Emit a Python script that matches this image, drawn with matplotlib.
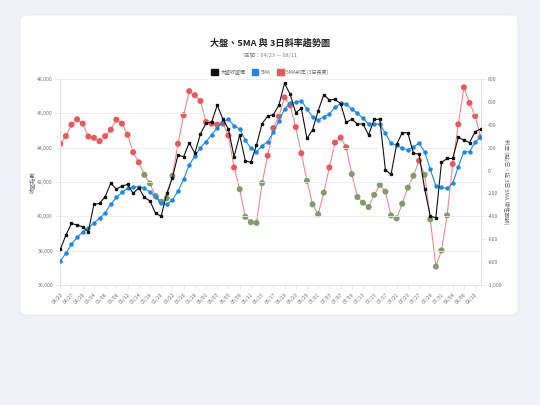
import matplotlib.pyplot as plt
from matplotlib.patches import FancyBboxPatch, Patch
from matplotlib.ticker import FuncFormatter, MultipleLocator
import numpy as np

plt.rcParams['font.family'] = ['Noto Sans CJK TC', 'DejaVu Sans']

# trading days 04/23 - 08/11
dates = ['04/23', '04/24', '04/27', '04/28', '04/29', '04/30',
         '05/04', '05/05', '05/06', '05/07', '05/08', '05/11', '05/12', '05/13', '05/14', '05/15',
         '05/18', '05/19', '05/20', '05/21', '05/22', '05/25', '05/26', '05/27', '05/28', '05/29',
         '06/01', '06/02', '06/03', '06/04', '06/05', '06/08', '06/09', '06/10', '06/11', '06/12',
         '06/15', '06/16', '06/17', '06/18', '06/19', '06/22', '06/23', '06/24', '06/29', '06/30',
         '07/01', '07/02', '07/03', '07/06', '07/07', '07/08', '07/09', '07/10',
         '07/13', '07/14', '07/15', '07/16', '07/17', '07/20', '07/21', '07/22', '07/23', '07/24',
         '07/27', '07/28', '07/29', '07/30', '07/31',
         '08/03', '08/04', '08/05', '08/06', '08/07', '08/10', '08/11']

close = [38070, 38900, 39590, 39490, 39390, 39100, 40700, 40750, 41140, 41920,
         41590, 41760, 41860, 41340, 41660, 41100, 40890, 40170, 40010, 41340,
         42250, 43570, 43470, 44290, 43670, 44800, 45420, 45490, 46480, 45670,
         45070, 43470, 44740, 43240, 43140, 44150, 45400, 45840, 45920, 46480,
         47750, 47110, 46040, 46290, 44540, 45030, 46150, 47070, 46780, 46810,
         46570, 45470, 45650, 45380, 45380, 44740, 45650, 45650, 42700, 42440,
         44190, 44870, 44870, 43670, 43630, 41590, 40010, 39920, 43140, 43370,
         43370, 44600, 44440, 44290, 44930, 45090]

ma5 = [37410, 37840, 38380, 38770, 39100, 39300, 39620, 39880, 40200, 40710,
       41100, 41390, 41630, 41720, 41720, 41630, 41430, 41140, 40750, 40700,
       40950, 41470, 42150, 42990, 43510, 44000, 44350, 44740, 45160, 45510,
       45650, 45280, 45090, 44440, 43960, 43760, 44110, 44350, 44890, 45550,
       46250, 46580, 46640, 46740, 46250, 45800, 45610, 45800, 45960, 46350,
       46580, 46540, 46250, 46000, 45710, 45380, 45380, 45380, 44830, 44250,
       44150, 43960, 43860, 44050, 44250, 43760, 42740, 41760, 41690, 41630,
       41920, 42890, 43760, 43760, 44310, 44640]

slope = [234, 301, 401, 448, 410, 298, 286, 257, 301, 357,
         445, 410, 313, 160, 72, -37, -113, -222, -272, -242,
         -46, 234, 483, 694, 659, 608, 424, 410, 401, 410,
         307, 27, -163, -404, -451, -457, -110, 130, 371, 474,
         639, 571, 380, 151, -90, -295, -383, -193, 27, 244,
         288, 204, -31, -231, -281, -319, -213, -125, -184, -392,
         -418, -290, -149, -46, 86, -37, -427, -839, -698, -392,
         57, 404, 727, 591, 477, 292]

x = np.arange(len(dates))
slope = np.array(slope)

fig = plt.figure(figsize=(5.4, 4.05), dpi=100)
fig.patch.set_facecolor('#eff1f7')
card = FancyBboxPatch((20 / 540, 1 - 315 / 405), 498 / 540, 300 / 405,
                      boxstyle='round,pad=0,rounding_size=0.014',
                      transform=fig.transFigure, facecolor='white',
                      edgecolor='#e6e8ef', linewidth=0.6, zorder=-10)
fig.patches.append(card)

ax = fig.add_axes([60 / 540, 1 - 285 / 405, 421 / 540, 206 / 405])
ax2 = ax.twinx()
ax.set_zorder(ax2.get_zorder() + 1)
ax.set_facecolor('none')
ax2.set_facecolor('none')

# slope line (drawn underneath)
red = '#e8585e'
green = '#7f9d6c'
ax2.plot(x, slope, color=red, lw=0.8, alpha=0.7, zorder=1)
pt_colors = [red if s >= 0 else green for s in slope]
ax2.scatter(x, slope, s=19, c=pt_colors, zorder=2, linewidths=0)

ax.plot(x, ma5, color='#1e88e5', lw=0.8, marker='o', ms=2.2, zorder=3)
ax.plot(x, close, color='#111111', lw=0.8, marker='s', ms=1.9, zorder=4)

ax.set_xlim(-0.05, len(dates) - 0.95)
ax.set_ylim(36000, 48000)
ax2.set_ylim(-1000, 800)
ax.yaxis.set_major_locator(MultipleLocator(2000))
ax2.yaxis.set_major_locator(MultipleLocator(200))
ax.yaxis.set_major_formatter(FuncFormatter(lambda v, p: f'{v:,.0f}'))
ax2.yaxis.set_major_formatter(FuncFormatter(lambda v, p: f'{v:,.0f}'))

ax.set_xticks(x[::2])
ax.set_xticklabels(dates[::2], rotation=45, ha='right', va='top',
                   rotation_mode='anchor')

ax.grid(axis='y', color='#ececec', lw=0.6)
for a in (ax, ax2):
    for s in a.spines.values():
        s.set_color('#e2e2e2')
        s.set_linewidth(0.6)
    a.spines['top'].set_visible(False)
    a.tick_params(colors='#e2e2e2', labelcolor='#777777', labelsize=3.7,
                  length=3, width=0.5, pad=2)

ax.set_ylabel('收盤指數', fontsize=4, color='#666666', labelpad=2)
ax2.set_ylabel('斜率 (點/日，近 3日 5MA 線性回歸)', fontsize=4, color='#666666',
               rotation=270, labelpad=5)

fig.text(0.5, 1 - 43 / 405, '大盤、5MA 與 3日斜率趨勢圖', ha='center', va='center',
         fontsize=6.6, fontweight='bold', color='#222222')
fig.text(0.5, 1 - 55 / 405, '區間：04/23 — 08/11', ha='center', va='center',
         fontsize=4, color='#888888')

handles = [Patch(facecolor='#111111', edgecolor='#111111'),
           Patch(facecolor='#1e88e5', edgecolor='#1e88e5'),
           Patch(facecolor=red, edgecolor=red)]
fig.legend(handles, ['大盤收盤價', '5MA', '5MA斜率 (3日長度)'], loc='center',
           bbox_to_anchor=(0.5, 1 - 72 / 405), ncol=3, frameon=False,
           fontsize=3.6, handlelength=1.3, handleheight=1.2, handletextpad=0.5,
           columnspacing=1.3, labelcolor='#666666')

fig.savefig('out.png', dpi=100, facecolor=fig.get_facecolor())
